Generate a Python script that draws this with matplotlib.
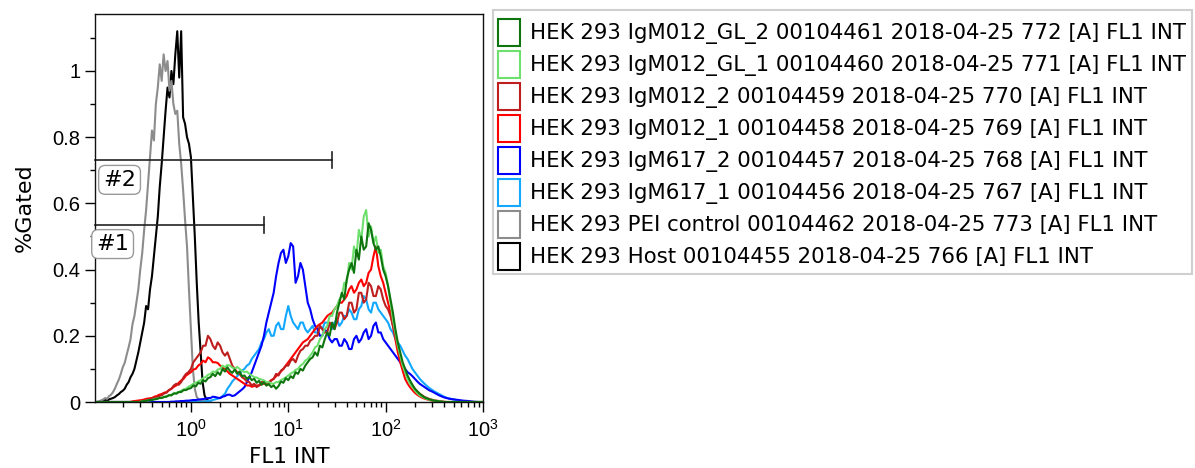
import numpy as np
import matplotlib
matplotlib.use("Agg")
import matplotlib.pyplot as plt
from matplotlib.patches import Rectangle
from matplotlib.ticker import FixedLocator, LogLocator, NullFormatter

plt.rcParams["mathtext.fontset"] = "custom"
plt.rcParams["mathtext.rm"] = "Liberation Sans"
plt.rcParams["mathtext.it"] = "Liberation Sans"

# ---------------- data ----------------
# histogram bin positions in decades (log10 of FL1 INT)
coarse_log = np.round(np.arange(-1.0, 3.0001, 0.025), 3)  # 161 bins
fine_log = np.round(np.arange(-1.0, 0.2001, 0.02), 2)     # 61 bins

labels = [
    "HEK 293 IgM012_GL_2 00104461 2018-04-25 772 [A] FL1 INT",
    "HEK 293 IgM012_GL_1 00104460 2018-04-25 771 [A] FL1 INT",
    "HEK 293 IgM012_2 00104459 2018-04-25 770 [A] FL1 INT",
    "HEK 293 IgM012_1 00104458 2018-04-25 769 [A] FL1 INT",
    "HEK 293 IgM617_2 00104457 2018-04-25 768 [A] FL1 INT",
    "HEK 293 IgM617_1 00104456 2018-04-25 767 [A] FL1 INT",
    "HEK 293 PEI control 00104462 2018-04-25 773 [A] FL1 INT",
    "HEK 293 Host 00104455 2018-04-25 766 [A] FL1 INT",
]
colors = ["#0E750E", "#6EE06E", "#BE1E1E", "#FF0000",
          "#0000FF", "#12A8FF", "#8C8C8C", "#000000"]

Z = [0]
igm012_gl_2 = Z * 20 + [
    0.002, 0.003, 0.004, 0.006, 0.006, 0.008, 0.009, 0.012, 0.012, 0.015,
    0.016, 0.021, 0.02, 0.026, 0.025, 0.03, 0.03, 0.036, 0.036, 0.04,
    0.042, 0.05, 0.047, 0.058, 0.055, 0.066, 0.062, 0.072, 0.075, 0.085,
    0.078, 0.09, 0.082, 0.10, 0.092, 0.105, 0.094, 0.088, 0.098, 0.085,
    0.092, 0.078, 0.08, 0.07, 0.076, 0.066, 0.07, 0.058, 0.064, 0.052,
    0.06, 0.05, 0.054, 0.045, 0.05, 0.04, 0.048, 0.062, 0.058, 0.072,
    0.066, 0.078, 0.072, 0.09, 0.085, 0.10, 0.095, 0.11, 0.12, 0.13,
    0.135, 0.15, 0.14, 0.17, 0.165, 0.19, 0.21, 0.20, 0.24, 0.22,
    0.27, 0.30, 0.33, 0.31, 0.37, 0.40, 0.42, 0.39, 0.46, 0.43,
    0.50, 0.46, 0.47, 0.54, 0.52, 0.48, 0.46, 0.47, 0.44, 0.40,
    0.38, 0.35, 0.31, 0.27, 0.22, 0.18, 0.15, 0.12, 0.10, 0.08,
    0.065, 0.052, 0.04, 0.032, 0.025, 0.019, 0.014, 0.011, 0.008, 0.006,
    0.004, 0.003, 0.002, 0.001] + Z * 17
igm012_gl_1 = Z * 20 + [
    0.002, 0.003, 0.004, 0.005, 0.006, 0.009, 0.010, 0.012, 0.013, 0.016,
    0.018, 0.019, 0.022, 0.026, 0.028, 0.03, 0.034, 0.038, 0.04, 0.046,
    0.05, 0.055, 0.058, 0.062, 0.066, 0.072, 0.075, 0.082, 0.085, 0.092,
    0.09, 0.098, 0.10, 0.11, 0.105, 0.112, 0.11, 0.104, 0.10, 0.106,
    0.10, 0.094, 0.09, 0.092, 0.085, 0.08, 0.075, 0.074, 0.07, 0.068,
    0.065, 0.06, 0.06, 0.056, 0.055, 0.06, 0.06, 0.066, 0.07, 0.075,
    0.08, 0.086, 0.09, 0.097, 0.10, 0.11, 0.115, 0.125, 0.13, 0.14,
    0.15, 0.165, 0.17, 0.19, 0.20, 0.22, 0.23, 0.26, 0.26, 0.28,
    0.29, 0.31, 0.32, 0.36, 0.36, 0.42, 0.40, 0.47, 0.44, 0.52,
    0.49, 0.56, 0.58, 0.50, 0.53, 0.48, 0.50, 0.45, 0.46, 0.41,
    0.39, 0.35, 0.30, 0.25, 0.21, 0.17, 0.14, 0.11, 0.09, 0.07,
    0.055, 0.045, 0.035, 0.027, 0.02, 0.016, 0.012, 0.009, 0.007, 0.005,
    0.004, 0.003, 0.002, 0.001] + Z * 17
igm012_2 = Z * 20 + [
    0.003, 0.005, 0.006, 0.009, 0.010, 0.013, 0.014, 0.018, 0.020, 0.026,
    0.028, 0.036, 0.04, 0.05, 0.055, 0.052, 0.06, 0.075, 0.085, 0.09,
    0.10, 0.12, 0.13, 0.14, 0.15, 0.17, 0.17, 0.20, 0.19, 0.17,
    0.16, 0.18, 0.17, 0.15, 0.14, 0.15, 0.13, 0.11, 0.10, 0.09,
    0.085, 0.075, 0.07, 0.062, 0.06, 0.05, 0.055, 0.045, 0.05, 0.06,
    0.06, 0.05, 0.055, 0.065, 0.07, 0.085, 0.08, 0.095, 0.10, 0.11,
    0.11, 0.125, 0.13, 0.12, 0.14, 0.155, 0.16, 0.17, 0.17, 0.185,
    0.19, 0.20, 0.20, 0.23, 0.22, 0.21, 0.21, 0.24, 0.23, 0.22,
    0.24, 0.27, 0.27, 0.25, 0.26, 0.30, 0.30, 0.27, 0.28, 0.33,
    0.33, 0.30, 0.31, 0.36, 0.35, 0.32, 0.32, 0.35, 0.34, 0.31,
    0.29, 0.28, 0.26, 0.23, 0.20, 0.17, 0.14, 0.11, 0.09, 0.075,
    0.06, 0.05, 0.04, 0.032, 0.025, 0.02, 0.015, 0.012, 0.009, 0.007,
    0.005, 0.004, 0.003, 0.002, 0.001] + Z * 16
igm012_1 = Z * 16 + [
    0.002, 0.003, 0.004, 0.005,
    0.006, 0.008, 0.010, 0.011, 0.012, 0.016, 0.018, 0.022, 0.024, 0.028,
    0.030, 0.036, 0.04, 0.046, 0.05, 0.058, 0.065, 0.07, 0.08, 0.085,
    0.09, 0.098, 0.10, 0.11, 0.115, 0.125, 0.12, 0.135, 0.13, 0.12,
    0.12, 0.118, 0.11, 0.105, 0.10, 0.092, 0.085, 0.08, 0.075, 0.07,
    0.065, 0.06, 0.055, 0.05, 0.05, 0.046, 0.048, 0.05, 0.05, 0.054,
    0.055, 0.058, 0.06, 0.066, 0.07, 0.078, 0.085, 0.092, 0.10, 0.11,
    0.12, 0.13, 0.14, 0.15, 0.16, 0.17, 0.18, 0.185, 0.19, 0.20,
    0.21, 0.22, 0.23, 0.235, 0.24, 0.25, 0.26, 0.265, 0.27, 0.28,
    0.29, 0.30, 0.30, 0.31, 0.32, 0.34, 0.35, 0.33, 0.34, 0.36,
    0.37, 0.35, 0.36, 0.39, 0.40, 0.44, 0.47, 0.41, 0.38, 0.36,
    0.33, 0.30, 0.27, 0.23, 0.19, 0.15, 0.12, 0.095, 0.07, 0.056,
    0.045, 0.036, 0.028, 0.022, 0.017, 0.013, 0.010, 0.008, 0.006, 0.004,
    0.003, 0.002, 0.001] + Z * 18
igm617_2 = Z * 32 + [
    0.001, 0.001, 0.002, 0.002, 0.003, 0.003, 0.004, 0.004,
    0.005, 0.006, 0.006, 0.007, 0.008, 0.009, 0.010, 0.012, 0.012, 0.016,
    0.015, 0.013, 0.012, 0.016, 0.018, 0.022, 0.022, 0.018, 0.020, 0.026,
    0.032, 0.038, 0.045, 0.06, 0.075, 0.09, 0.11, 0.13, 0.15, 0.17,
    0.20, 0.24, 0.27, 0.30, 0.33, 0.38, 0.42, 0.45, 0.46, 0.42,
    0.44, 0.48, 0.47, 0.36, 0.38, 0.42, 0.40, 0.35, 0.30, 0.28,
    0.25, 0.23, 0.22, 0.20, 0.20, 0.22, 0.21, 0.19, 0.18, 0.19,
    0.19, 0.17, 0.17, 0.19, 0.18, 0.16, 0.16, 0.19, 0.20, 0.18,
    0.19, 0.21, 0.22, 0.19, 0.20, 0.23, 0.24, 0.21, 0.21, 0.19,
    0.18, 0.17, 0.16, 0.15, 0.14, 0.13, 0.12, 0.11, 0.10, 0.09,
    0.085, 0.078, 0.07, 0.062, 0.055, 0.05, 0.045, 0.04, 0.035, 0.032,
    0.028, 0.024, 0.02, 0.017, 0.014, 0.012, 0.010, 0.009, 0.008, 0.007,
    0.006, 0.005, 0.004, 0.0035, 0.003, 0.002, 0.001, 0.0005, 0, 0,
    0]
igm617_1 = Z * 46 + [
    0.002, 0.003, 0.004, 0.006,
    0.008, 0.010, 0.012, 0.018, 0.025, 0.04, 0.05, 0.062, 0.07, 0.078,
    0.085, 0.095, 0.10, 0.11, 0.115, 0.13, 0.14, 0.15, 0.16, 0.18,
    0.19, 0.21, 0.22, 0.20, 0.20, 0.23, 0.24, 0.22, 0.22, 0.26,
    0.29, 0.26, 0.24, 0.23, 0.22, 0.24, 0.24, 0.22, 0.21, 0.22,
    0.23, 0.21, 0.21, 0.23, 0.22, 0.24, 0.24, 0.23, 0.22, 0.24,
    0.25, 0.23, 0.24, 0.26, 0.26, 0.28, 0.27, 0.25, 0.25, 0.28,
    0.29, 0.32, 0.31, 0.28, 0.27, 0.30, 0.30, 0.28, 0.27, 0.26,
    0.25, 0.24, 0.22, 0.21, 0.19, 0.18, 0.17, 0.155, 0.14, 0.13,
    0.115, 0.10, 0.09, 0.08, 0.07, 0.062, 0.055, 0.048, 0.042, 0.037,
    0.032, 0.028, 0.024, 0.02, 0.016, 0.013, 0.011, 0.009, 0.007, 0.005,
    0.004, 0.003, 0.002, 0.0015, 0.001, 0.0005, 0, 0, 0, 0,
    0]
pei_control = [0, 0, 0, 0.003, 0.005, 0.008, 0.012, 0.010, 0.018, 0.022,
               0.030, 0.041, 0.055, 0.068, 0.085, 0.105, 0.118, 0.142, 0.165, 0.19,
               0.235, 0.26, 0.30, 0.34, 0.40, 0.45, 0.52, 0.58, 0.66, 0.74,
               0.82, 0.79, 0.90, 0.95, 1.02, 0.97, 1.05, 1.00, 1.03, 0.94,
               0.97, 0.90, 0.87, 0.88, 0.78, 0.72, 0.64, 0.55, 0.47, 0.34,
               0.22, 0.10, 0.04, 0.015, 0.008, 0.005, 0.003, 0.004, 0.002, 0.002,
               0.001]
host = [0, 0, 0, 0, 0.002, 0.004, 0.006, 0.004, 0.008, 0.010,
        0.012, 0.015, 0.020, 0.024, 0.030, 0.034, 0.040, 0.052, 0.060, 0.075,
        0.085, 0.100, 0.125, 0.15, 0.18, 0.21, 0.24, 0.29, 0.28, 0.34,
        0.38, 0.44, 0.50, 0.56, 0.65, 0.72, 0.80, 0.88, 0.95, 0.92,
        1.00, 0.96, 1.05, 1.12, 0.98, 1.12, 0.86, 0.84, 0.80, 0.78,
        0.74, 0.62, 0.50, 0.36, 0.24, 0.15, 0.06, 0.02, 0.008, 0.004,
        0.002]

series = [igm012_gl_2, igm012_gl_1, igm012_2, igm012_1,
          igm617_2, igm617_1, pei_control, host]
grids = [coarse_log] * 6 + [fine_log, fine_log]

gate_names = ["#1", "#2"]
gate_levels = [0.535, 0.731]
gate_ends = [5.6, 27.9]
gate_label_x = [0.157, 0.185]
gate_label_y = [0.477, 0.671]

y_ticks = [0, 0.2, 0.4, 0.6, 0.8, 1.0]
y_tick_labels = ["0", "0.2", "0.4", "0.6", "0.8", "1"]
x_ticks = [1, 10, 100, 1000]
x_tick_labels = [r"$\mathregular{10^{0}}$", r"$\mathregular{10^{1}}$",
                 r"$\mathregular{10^{2}}$", r"$\mathregular{10^{3}}$"]

# ---------------- figure ----------------
W, H = 1195, 468
fig = plt.figure(figsize=(W / 100, H / 100), dpi=100)
ax = fig.add_axes([95 / W, 66 / H, 388 / W, 388 / H])

xmin = 10 ** -0.985
order = [7, 6, 5, 4, 3, 2, 1, 0]
for i in order:
    xs = np.asarray(grids[i])
    ys = np.asarray(series[i], dtype=float)
    n = min(len(xs), len(ys))
    ax.plot(10 ** xs[:n], ys[:n], color=colors[i], lw=1.5)

for name, lev, xe, lx, ly in zip(gate_names, gate_levels, gate_ends,
                                 gate_label_x, gate_label_y):
    ax.plot([xmin, xe], [lev, lev], color="#222222", lw=1.2, clip_on=False)
    ax.plot([xe, xe], [lev - 0.024, lev + 0.024], color="#222222", lw=1.2)
    ax.text(lx, ly, name, ha="center", va="center", fontsize=16,
            bbox=dict(boxstyle="round,pad=0.2,rounding_size=0.3",
                      fc="white", ec="#9a9a9a", lw=1))

ax.set_xscale("log")
ax.set_xlim(xmin, 1000)
ax.set_ylim(0, 1.172)
ax.xaxis.set_major_locator(FixedLocator(x_ticks))
ax.set_xticklabels(x_tick_labels)
ax.xaxis.set_minor_locator(LogLocator(base=10, subs=range(2, 10), numticks=20))
ax.xaxis.set_minor_formatter(NullFormatter())
ax.yaxis.set_major_locator(FixedLocator(y_ticks))
ax.set_yticklabels(y_tick_labels)
ax.yaxis.set_minor_locator(FixedLocator([0.1, 0.3, 0.5, 0.7, 0.9, 1.1]))
ax.tick_params(which="major", length=7, width=1, labelsize=14.5, direction="out")
ax.tick_params(axis="x", which="major", pad=5)
ax.tick_params(which="minor", length=3.3, width=1, direction="out")
for lbl in ax.get_xticklabels() + ax.get_yticklabels():
    lbl.set_fontfamily("Liberation Sans")
    lbl.set_fontsize(14.5)
for s in ax.spines.values():
    s.set_linewidth(1.0)
    s.set_color("#111111")

fig.text(25 / W, 1 - 208 / H, "%Gated", rotation=90, ha="center", va="center",
         fontsize=16)
fig.text(289 / W, 1 - 457 / H, "FL1 INT", ha="center", va="center", fontsize=15.5)

# ---------------- legend (pixel overlay) ----------------
lg = fig.add_axes([0, 0, 1, 1], facecolor="none")
lg.set_xlim(0, W)
lg.set_ylim(H, 0)
lg.axis("off")
lg.add_patch(Rectangle((493, 10), 699, 264, fc="white", ec="#cfcfcf", lw=1.5))
for k, (lab, col) in enumerate(zip(labels, colors)):
    yc = 32 + 32 * k
    lg.add_patch(Rectangle((498, yc - 13.5), 22, 27, fc="white", ec=col, lw=1.5))
    lg.text(530, yc + 1, lab, ha="left", va="center", fontsize=15.3)

fig.savefig("out.png", dpi=100)
